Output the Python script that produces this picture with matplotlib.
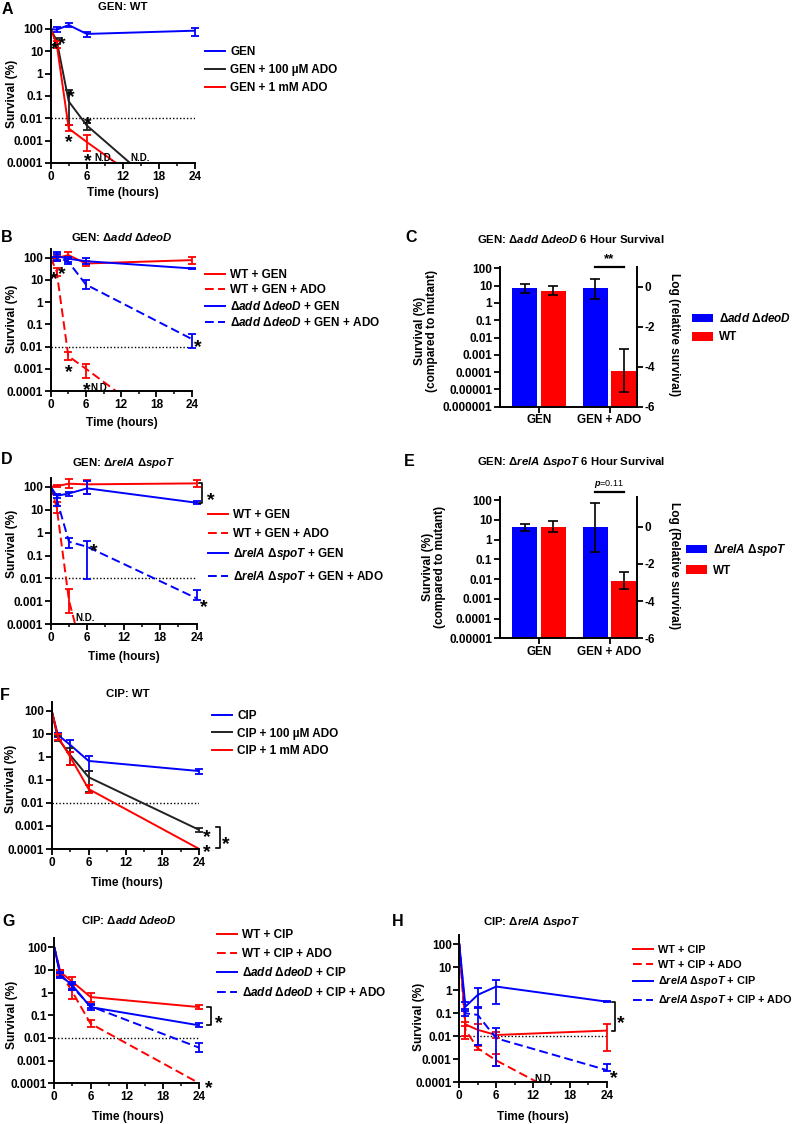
import numpy as np
import matplotlib
matplotlib.use('Agg')
import matplotlib.pyplot as plt
import matplotlib.ticker as mticker
import matplotlib.transforms as mtransforms

plt.rcParams['font.family'] = ['Liberation Sans', 'DejaVu Sans']
plt.rcParams['font.weight'] = 'bold'
plt.rcParams['axes.labelweight'] = 'bold'
plt.rcParams['mathtext.fontset'] = 'custom'
plt.rcParams['mathtext.rm'] = 'Liberation Sans:bold'
plt.rcParams['mathtext.it'] = 'Liberation Sans:italic:bold'
plt.rcParams['mathtext.bf'] = 'Liberation Sans:bold'

BLUE = '#0000FF'
RED = '#FF0000'
BLACK = '#222222'
ND = np.nan

# ---------------- data ----------------
T = [0, 1, 3, 6, 24]
DETECTION_LIMIT = 0.01

# Panel A: GEN, WT
A_GEN = [100, 93, 150, 60, 84]
A_GEN_LO = [100, 71, 127, 42, 50]
A_GEN_HI = [100, 118, 185, 76, 107]
A_LOW = [100, 30, 0.057, 0.0048, 3e-7]          # 24 h not detected
A_LOW_LO = [100, 22, 0.005, 0.0029, ND]
A_LOW_HI = [100, 40, 0.18, 0.0063, ND]
A_HIGH = [100, 21, 0.0035, 0.00087, 3e-7]       # 24 h not detected
A_HIGH_LO = [100, 14, 0.0026, 0.00033, ND]
A_HIGH_HI = [100, 30, 0.0048, 0.0018, ND]

# Panel B: GEN, add deoD
B_WT = [100, 95, 132, 55, 78]
B_WT_LO = [100, 75, 93, 42, 50]
B_WT_HI = [100, 125, 185, 75, 110]
B_WT_ADO = [100, 25, 0.0037, 0.001, 3e-7]
B_WT_ADO_LO = [100, 15, 0.0025, 0.0004, ND]
B_WT_ADO_HI = [100, 35, 0.0055, 0.0016, ND]
B_MUT = [100, 120, 90, 70, 33]
B_MUT_LO = [100, 70, 66, 50, 30]
B_MUT_HI = [100, 174, 110, 100, 36]
B_MUT_ADO = [100, 110, 66, 6.2, 0.022]
B_MUT_ADO_LO = [100, 80, 50, 4, 0.009]
B_MUT_ADO_HI = [100, 140, 88, 9.5, 0.035]

# Panel D: GEN, relA spoT
D_WT = [100, 107, 135, 127, 140]
D_WT_LO = [100, 95, 85, 50, 97]
D_WT_HI = [100, 115, 210, 200, 190]
D_WT_ADO = [100, 12, 0.0011, 1e-6, ND]          # 6 h not detected
D_WT_ADO_LO = [100, 7, 0.0003, ND, ND]
D_WT_ADO_HI = [100, 22, 0.0033, ND, ND]
D_MUT = [100, 40, 51, 85, 20]
D_MUT_LO = [100, 33, 40, 50, 17]
D_MUT_HI = [100, 48, 60, 180, 23]
D_MUT_ADO = [100, 28, 0.4, 0.24, 0.00135]
D_MUT_ADO_LO = [100, 15, 0.22, 0.0093, 0.0012]
D_MUT_ADO_HI = [100, 45, 0.6, 0.42, 0.003]

# Panel F: CIP, WT
F_CIP = [100, 8.9, 3.3, 0.66, 0.24]
F_CIP_LO = [100, 7, 1.6, 0.25, 0.18]
F_CIP_HI = [100, 10.5, 5.2, 1.1, 0.3]
F_LOW = [100, 6.3, 1.2, 0.13, 0.00067]
F_LOW_LO = [100, 5, 0.45, 0.03, 0.00055]
F_LOW_HI = [100, 8, 2.5, 0.25, 0.0008]
F_HIGH = [100, 7.5, 1.0, 0.04, 0.0001]
F_HIGH_LO = [100, 5.5, 0.45, 0.028, ND]
F_HIGH_HI = [100, 10, 1.6, 0.06, ND]

# Panel G: CIP, add deoD
G_WT = [100, 8.1, 3.0, 0.64, 0.23]
G_WT_LO = [100, 6.5, 1.3, 0.39, 0.19]
G_WT_HI = [100, 10, 4.9, 1.0, 0.29]
G_WT_ADO = [100, 7.6, 1.07, 0.043, 0.0001]
G_WT_ADO_LO = [100, 5.5, 0.5, 0.03, ND]
G_WT_ADO_HI = [100, 9.5, 2.1, 0.06, ND]
G_MUT = [100, 5.8, 2.1, 0.23, 0.036]
G_MUT_LO = [100, 4.5, 1.5, 0.17, 0.029]
G_MUT_HI = [100, 8, 2.9, 0.28, 0.045]
G_MUT_ADO = [100, 6.2, 1.8, 0.25, 0.0037]
G_MUT_ADO_LO = [100, 5, 1.3, 0.2, 0.0024]
G_MUT_ADO_HI = [100, 7.5, 2.5, 0.3, 0.0058]

# Panel H: CIP, relA spoT
H_WT = [100, 0.033, 0.019, 0.0114, 0.0177]
H_WT_LO = [100, 0.008, 0.004, 0.0085, 0.0023]
H_WT_HI = [100, 0.04, 0.033, 0.016, 0.034]
H_WT_ADO = [100, 0.019, 0.003, 0.0009, 2.5e-6]
H_WT_ADO_LO = [100, 0.01, 0.0025, 0.0005, ND]
H_WT_ADO_HI = [100, 0.028, 0.0036, 0.0017, ND]
H_MUT = [100, 0.195, 0.63, 1.45, 0.32]
H_MUT_LO = [100, 0.15, 0.17, 0.25, 0.30]
H_MUT_HI = [100, 0.3, 1.2, 2.8, 0.34]
H_MUT_ADO = [100, 0.1, 0.085, 0.0082, 0.00034]
H_MUT_ADO_LO = [100, 0.08, 0.004, 0.0005, 0.00031]
H_MUT_ADO_HI = [100, 0.13, 0.19, 0.022, 0.0006]

# Bar panels (6 h survival)
BAR_CATS = ['GEN', 'GEN + ADO']
C_MUT = [7, 7]
C_MUT_LO = [3.9, 1.7]
C_MUT_HI = [12.5, 23]
C_WT = [5.1, 1.2e-4]
C_WT_LO = [2.9, 7.5e-6]
C_WT_HI = [10, 2.1e-3]
E_MUT = [4.5, 4.5]
E_MUT_LO = [2.7, 0.23]
E_MUT_HI = [6, 73]
E_WT = [4.5, 0.0083]
E_WT_LO = [2.3, 0.0032]
E_WT_HI = [8.6, 0.023]

# ---------------- figure helpers ----------------
W, H = 800, 1124
fig = plt.figure(figsize=(W / 100, H / 100), dpi=100)

TICK_FS = 8.5
LEG_FS = 8.5
TITLE_FS = 8.2
LABEL_FS = 8.6
LETTER_FS = 11.5
STAR_FS = 14


def axes_px(left, top, right, bottom):
    return fig.add_axes([left / W, 1 - bottom / H, (right - left) / W, (bottom - top) / H])


def ftext(x, y, s, **kw):
    kw.setdefault('ha', 'center')
    kw.setdefault('va', 'center')
    fig.text(x / W, 1 - y / H, s, **kw)


def style_spines(ax):
    for s in ['top', 'right']:
        ax.spines[s].set_visible(False)
    for s in ['left', 'bottom']:
        ax.spines[s].set_linewidth(1.4)


def style_time_axis(ax):
    ax.set_yscale('log')
    ax.set_xlim(0, 24)
    ax.set_ylim(1e-4, 250)
    ax.set_xticks([0, 6, 12, 18, 24])
    ax.set_xticks([3, 9, 15, 21], minor=True)
    ax.set_yticks([1e-4, 1e-3, 1e-2, 1e-1, 1, 10, 100])
    ax.set_yticklabels(['0.0001', '0.001', '0.01', '0.1', '1', '10', '100'])
    ax.yaxis.set_minor_locator(mticker.NullLocator())
    style_spines(ax)
    ax.tick_params(which='major', length=4, width=1.3, labelsize=TICK_FS, pad=1.5)
    ax.tick_params(which='minor', length=2.5, width=1.1)
    ax.hlines(DETECTION_LIMIT, 0, 24, colors='black', linestyles=(0, (1, 1.5)), lw=1.0)


def series(ax, y, lo, hi, color, dashed, label):
    t = np.array(T, dtype=float)
    y = np.array(y, dtype=float)
    lo = np.array(lo, dtype=float)
    hi = np.array(hi, dtype=float)
    kw = dict(color=color, lw=1.4, label=label)
    if dashed:
        kw['dashes'] = (4.5, 2.2)
    line, = ax.plot(t, y, **kw)
    m = np.isfinite(lo) & np.isfinite(hi) & (hi > lo)
    ax.errorbar(t[m], y[m], yerr=[y[m] - lo[m], hi[m] - y[m]], fmt='none', ecolor=color,
                elinewidth=1.3, capsize=2.8, capthick=1.3, clip_on=False)
    return line


def star(ax, x, y, s='*', fs=STAR_FS):
    off = mtransforms.ScaledTranslation(0, -0.57 * fs / 72, fig.dpi_scale_trans)
    ax.text(x, y, s, fontsize=fs, ha='center', va='baseline', transform=ax.transData + off,
            clip_on=False)


def nd(ax, x, y):
    ax.text(x, y, 'N.D.', fontsize=7, ha='center', va='center', clip_on=False)


def bracket(ax, x0, x1, y0, y1):
    ax.plot([x0, x1, x1, x0], [y0, y0, y1, y1], color='black', lw=1.2, clip_on=False)


def legend(ax, handles, x, yc, spacing, hl=1.7, fs=LEG_FS, **kw):
    leg = ax.legend(handles=handles, loc='center left', bbox_to_anchor=(x / W, 1 - yc / H),
                    bbox_transform=fig.transFigure, frameon=False, fontsize=fs,
                    handlelength=hl, handletextpad=0.45, labelspacing=spacing,
                    borderpad=0, borderaxespad=0, **kw)
    return leg


def panel_labels(letter, lx, ly, title, tx, ty, xl_xy, yl_xy):
    ftext(lx, ly, letter, fontsize=LETTER_FS, fontweight='bold')
    ftext(tx, ty, title, fontsize=TITLE_FS)
    if xl_xy is not None:
        ftext(xl_xy[0], xl_xy[1], 'Time (hours)', fontsize=LABEL_FS)
    if yl_xy is not None:
        ftext(yl_xy[0], yl_xy[1], 'Survival (%)', fontsize=LABEL_FS, rotation=90)


ADD = r'Δ$\mathit{add}$ Δ$\mathit{deoD}$'
REL = r'Δ$\mathit{relA}$ Δ$\mathit{spoT}$'

# ---------------- Panel A ----------------
ax = axes_px(50.7, 20.1, 195, 163)
style_time_axis(ax)
h1 = series(ax, A_GEN, A_GEN_LO, A_GEN_HI, BLUE, False, 'GEN')
h2 = series(ax, A_LOW, A_LOW_LO, A_LOW_HI, BLACK, False, 'GEN + 100 µM ADO')
h3 = series(ax, A_HIGH, A_HIGH_LO, A_HIGH_HI, RED, False, 'GEN + 1 mM ADO')
for x, y in [(0.6, 23), (1.83, 38), (3.3, 0.16), (3.05, 0.0016), (6.1, 0.01), (6.1, 0.00023)]:
    star(ax, x, y)
nd(ax, 8.9, 0.00016)
nd(ax, 14.9, 0.00016)
legend(ax, [h1, h2, h3], 205, 69.8, 0.5)
panel_labels('A', 7, 10, 'GEN: WT', 122.5, 7.5, (123, 193), (12.5, 94))

# ---------------- Panel B ----------------
ax = axes_px(50.7, 248.9, 191.7, 391)
style_time_axis(ax)
h1 = series(ax, B_WT, B_WT_LO, B_WT_HI, RED, False, 'WT + GEN')
h2 = series(ax, B_WT_ADO, B_WT_ADO_LO, B_WT_ADO_HI, RED, True, 'WT + GEN + ADO')
h3 = series(ax, B_MUT, B_MUT_LO, B_MUT_HI, BLUE, False, ADD + ' + GEN')
h4 = series(ax, B_MUT_ADO, B_MUT_ADO_LO, B_MUT_ADO_HI, BLUE, True, ADD + ' + GEN + ADO')
for x, y in [(0.45, 20), (1.87, 33), (3.0, 0.0014), (6.2, 0.0002), (24.95, 0.017)]:
    star(ax, x, y)
nd(ax, 8.4, 0.00014)
legend(ax, [h1, h2, h3, h4], 205, 299, 0.3)
panel_labels('B', 7, 237, 'GEN: ' + ADD, 121.5, 237, (121.5, 423), (12.5, 319))

# ---------------- Panel D ----------------
ax = axes_px(50.7, 477.6, 196.7, 624.3)
style_time_axis(ax)
h1 = series(ax, D_WT, D_WT_LO, D_WT_HI, RED, False, 'WT + GEN')
h2 = series(ax, D_WT_ADO, D_WT_ADO_LO, D_WT_ADO_HI, RED, True, 'WT + GEN + ADO')
h3 = series(ax, D_MUT, D_MUT_LO, D_MUT_HI, BLUE, False, REL + ' + GEN')
h4 = series(ax, D_MUT_ADO, D_MUT_ADO_LO, D_MUT_ADO_HI, BLUE, True, REL + ' + GEN + ADO')
bracket(ax, 24.4, 24.8, D_WT[-1], D_MUT[-1])
for x, y in [(26.3, 47), (7.0, 0.3), (25.1, 0.001)]:
    star(ax, x, y)
nd(ax, 5.6, 0.00018)
legend(ax, [h1, h2, h3, h4], 208, 547, 0.55)
panel_labels('D', 7, 460, 'GEN: ' + REL, 123.5, 462.5, (123.5, 657), (12.5, 544))

# ---------------- Panel F ----------------
ax = axes_px(51.7, 701.5, 199.3, 849)
style_time_axis(ax)
h1 = series(ax, F_CIP, F_CIP_LO, F_CIP_HI, BLUE, False, 'CIP')
h2 = series(ax, F_LOW, F_LOW_LO, F_LOW_HI, BLACK, False, 'CIP + 100 µM ADO')
h3 = series(ax, F_HIGH, F_HIGH_LO, F_HIGH_HI, RED, False, 'CIP + 1 mM ADO')
bracket(ax, 26.7, 27.3, 0.00087, 0.000107)
for x, y in [(25.2, 0.0006), (25.2, 0.00014), (28.3, 0.0003)]:
    star(ax, x, y)
legend(ax, [h1, h2, h3], 212, 733.5, 0.45)
panel_labels('F', 5, 696, 'CIP: WT', 127.5, 694, (126.5, 883), (11, 779))

# ---------------- Panel G ----------------
ax = axes_px(54.3, 938.3, 199.3, 1083.3)
style_time_axis(ax)
h1 = series(ax, G_WT, G_WT_LO, G_WT_HI, RED, False, 'WT + CIP')
h2 = series(ax, G_WT_ADO, G_WT_ADO_LO, G_WT_ADO_HI, RED, True, 'WT + CIP + ADO')
h3 = series(ax, G_MUT, G_MUT_LO, G_MUT_HI, BLUE, False, ADD + ' + CIP')
h4 = series(ax, G_MUT_ADO, G_MUT_ADO_LO, G_MUT_ADO_HI, BLUE, True, ADD + ' + CIP + ADO')
bracket(ax, 25.2, 25.9, G_WT[-1], G_MUT[-1])
for x, y in [(27.2, 0.087), (25.5, 0.00012)]:
    star(ax, x, y)
legend(ax, [h1, h2, h3, h4], 217, 964, 0.55)
panel_labels('G', 9, 922, 'CIP: ' + ADD, 128.5, 920, (127.5, 1117), (12.5, 1015))

# ---------------- Panel H ----------------
ax = axes_px(459.3, 935.1, 606.7, 1082.3)
style_time_axis(ax)
h1 = series(ax, H_WT, H_WT_LO, H_WT_HI, RED, False, 'WT + CIP')
h2 = series(ax, H_WT_ADO, H_WT_ADO_LO, H_WT_ADO_HI, RED, True, 'WT + CIP + ADO')
h3 = series(ax, H_MUT, H_MUT_LO, H_MUT_HI, BLUE, False, REL + ' + CIP')
h4 = series(ax, H_MUT_ADO, H_MUT_ADO_LO, H_MUT_ADO_HI, BLUE, True, REL + ' + CIP + ADO')
bracket(ax, 24.8, 25.4, H_MUT[-1], H_WT[-1])
for x, y in [(26.3, 0.072), (25.1, 0.00029)]:
    star(ax, x, y)
nd(ax, 13.8, 0.00014)
legend(ax, [h1, h2, h3, h4], 633, 976, 0.45, hl=1.85, fs=7.8)
panel_labels('H', 398, 922, 'CIP: ' + REL, 532, 922, (533, 1117), (419, 1017))


# ---------------- bar panels ----------------
def bar_panel(box, mut, mlo, mhi, wt, wlo, whi, ylim, yticks, yticklabels, rlim,
              mut_label, sig_text, sig_y, sig_fs, sig_weight):
    ax = axes_px(*box)
    ax.set_yscale('log')
    ax.set_ylim(*ylim)
    ax.set_xlim(-0.553, 1.39)
    x = np.arange(len(BAR_CATS))
    off, wdt = 0.2, 0.355
    mut = np.array(mut, float)
    wt = np.array(wt, float)
    b1 = ax.bar(x - off, mut - ylim[0], bottom=ylim[0], width=wdt, color=BLUE, label=mut_label)
    b2 = ax.bar(x + off, wt - ylim[0], bottom=ylim[0], width=wdt, color=RED, label='WT')
    ax.errorbar(x - off, mut, yerr=[mut - np.array(mlo), np.array(mhi) - mut], fmt='none',
                ecolor='black', elinewidth=1.2, capsize=3.5, capthick=1.2)
    ax.errorbar(x + off, wt, yerr=[wt - np.array(wlo), np.array(whi) - wt], fmt='none',
                ecolor='black', elinewidth=1.2, capsize=3.5, capthick=1.2)
    ax.set_yticks(yticks)
    ax.set_yticklabels(yticklabels)
    ax.yaxis.set_minor_locator(mticker.NullLocator())
    ax.set_xticks(x)
    ax.set_xticklabels(BAR_CATS)
    style_spines(ax)
    ax.tick_params(which='major', length=4, width=1.3, labelsize=TICK_FS, pad=1.5)
    axr = ax.twinx()
    axr.set_ylim(*rlim)
    axr.set_yticks([0, -2, -4, -6])
    axr.set_yticklabels(['0', '-2', '-4', '-6'])
    for s in ['top', 'left', 'bottom']:
        axr.spines[s].set_visible(False)
    axr.spines['right'].set_linewidth(1.4)
    axr.tick_params(length=4, width=1.3, labelsize=TICK_FS, pad=1.5)
    trans = mtransforms.blended_transform_factory(ax.transData, ax.transAxes)
    ax.plot([1 - off, 1 + off], [sig_y, sig_y], color='black', lw=1.6, transform=trans,
            clip_on=False)
    ax.text(1, sig_y + 0.015, sig_text, transform=trans, ha='center', va='bottom',
            fontsize=sig_fs, fontweight=sig_weight, clip_on=False)
    return ax, [b1, b2]


ax, hs = bar_panel((500, 266.7, 637, 406.7), C_MUT, C_MUT_LO, C_MUT_HI, C_WT, C_WT_LO, C_WT_HI,
                   (1e-6, 124), [1e-6, 1e-5, 1e-4, 1e-3, 1e-2, 1e-1, 1, 10, 100],
                   ['0.000001', '0.00001', '0.0001', '0.001', '0.01', '0.1', '1', '10', '100'],
                   (-6, 1), ADD, '**', 0.996, 9.5, 'bold')
legend(ax, hs, 692, 327.7, 0.55, hl=1.8, handleheight=0.75)
ftext(411, 238, 'C', fontsize=LETTER_FS)
ftext(571, 239, 'GEN: ' + ADD + ' 6 Hour Survival', fontsize=TITLE_FS)
ftext(426, 331, 'Survival (%)\n(compared to mutant)', fontsize=LABEL_FS, rotation=90,
      linespacing=1.1)
ftext(674, 335, 'Log (relative survival)', fontsize=LABEL_FS, rotation=270)

ax, hs = bar_panel((500, 496.7, 637, 638.3), E_MUT, E_MUT_LO, E_MUT_HI, E_WT, E_WT_LO, E_WT_HI,
                   (1e-5, 147), [1e-5, 1e-4, 1e-3, 1e-2, 1e-1, 1, 10, 100],
                   ['0.00001', '0.0001', '0.001', '0.01', '0.1', '1', '10', '100'],
                   (-6, 1.61), REL, r'$\mathit{p}$=0.11', 1.035, 6.5, 'normal')
legend(ax, hs, 686, 559.4, 0.55, hl=1.8, handleheight=0.75)
ftext(409, 462, 'E', fontsize=LETTER_FS)
ftext(571, 462, 'GEN: ' + REL + ' 6 Hour Survival', fontsize=TITLE_FS)
ftext(434, 567, 'Survival (%)\n(compared to mutant)', fontsize=LABEL_FS, rotation=90,
      linespacing=1.1)
ftext(674, 566, 'Log (Relative survival)', fontsize=LABEL_FS, rotation=270)

fig.savefig('out.png', dpi=100)
